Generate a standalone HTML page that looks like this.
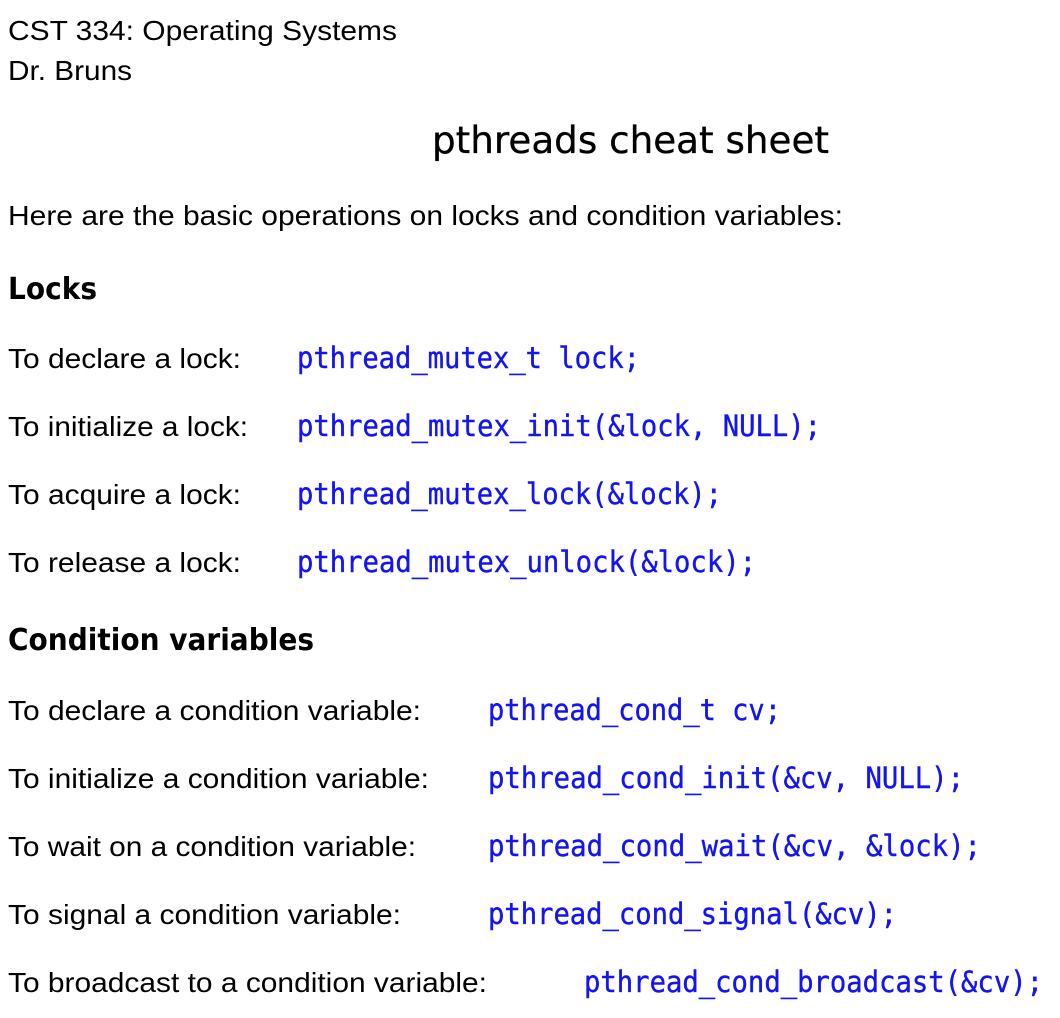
<!DOCTYPE html>
<html><head><meta charset="utf-8"><style>html,body{margin:0;padding:0;background:#fff;}svg{display:block}</style></head>
<body>
<svg width="1060" height="1018" xmlns="http://www.w3.org/2000/svg">
<g font-family="Liberation Sans, Arial, sans-serif" font-size="28" fill="#000">
<text x="8" y="40" textLength="389" lengthAdjust="spacingAndGlyphs">CST 334: Operating Systems</text>
<text x="8" y="80" textLength="124" lengthAdjust="spacingAndGlyphs">Dr. Bruns</text>
<text x="8" y="225" textLength="835" lengthAdjust="spacingAndGlyphs">Here are the basic operations on locks and condition variables:</text>
<text x="8" y="368" textLength="233" lengthAdjust="spacingAndGlyphs">To declare a lock:</text>
<text x="8" y="436" textLength="240" lengthAdjust="spacingAndGlyphs">To initialize a lock:</text>
<text x="8" y="504" textLength="233" lengthAdjust="spacingAndGlyphs">To acquire a lock:</text>
<text x="8" y="572" textLength="233" lengthAdjust="spacingAndGlyphs">To release a lock:</text>
<text x="8" y="720" textLength="413" lengthAdjust="spacingAndGlyphs">To declare a condition variable:</text>
<text x="8" y="788" textLength="421" lengthAdjust="spacingAndGlyphs">To initialize a condition variable:</text>
<text x="8" y="856" textLength="408" lengthAdjust="spacingAndGlyphs">To wait on a condition variable:</text>
<text x="8" y="924" textLength="393" lengthAdjust="spacingAndGlyphs">To signal a condition variable:</text>
<text x="8" y="992" textLength="479" lengthAdjust="spacingAndGlyphs">To broadcast to a condition variable:</text>
</g>
<g font-family="DejaVu Sans, Verdana, sans-serif" fill="#000">
<text x="432" y="153" font-size="37" stroke="#000" stroke-width="0.3" textLength="397" lengthAdjust="spacingAndGlyphs">pthreads cheat sheet</text>
<text x="8" y="299" font-size="30" font-weight="bold" textLength="89" lengthAdjust="spacingAndGlyphs">Locks</text>
<text x="8" y="650" font-size="30" font-weight="bold" textLength="306" lengthAdjust="spacingAndGlyphs">Condition variables</text>
</g>
<g font-family="DejaVu Sans Mono, Liberation Mono, monospace" font-size="29" fill="#1414f0" stroke="#1414f0" stroke-width="0.4">
<text x="297" y="368" textLength="343" lengthAdjust="spacingAndGlyphs">pthread_mutex_t lock;</text>
<text x="297" y="436" textLength="524" lengthAdjust="spacingAndGlyphs">pthread_mutex_init(&amp;lock, NULL);</text>
<text x="297" y="504" textLength="425" lengthAdjust="spacingAndGlyphs">pthread_mutex_lock(&amp;lock);</text>
<text x="297" y="572" textLength="459" lengthAdjust="spacingAndGlyphs">pthread_mutex_unlock(&amp;lock);</text>
<text x="488" y="720" textLength="293" lengthAdjust="spacingAndGlyphs">pthread_cond_t cv;</text>
<text x="488" y="788" textLength="476" lengthAdjust="spacingAndGlyphs">pthread_cond_init(&amp;cv, NULL);</text>
<text x="488" y="856" textLength="493" lengthAdjust="spacingAndGlyphs">pthread_cond_wait(&amp;cv, &amp;lock);</text>
<text x="488" y="924" textLength="409" lengthAdjust="spacingAndGlyphs">pthread_cond_signal(&amp;cv);</text>
<text x="584" y="992" textLength="459" lengthAdjust="spacingAndGlyphs">pthread_cond_broadcast(&amp;cv);</text>
</g>
</svg>
</body></html>
